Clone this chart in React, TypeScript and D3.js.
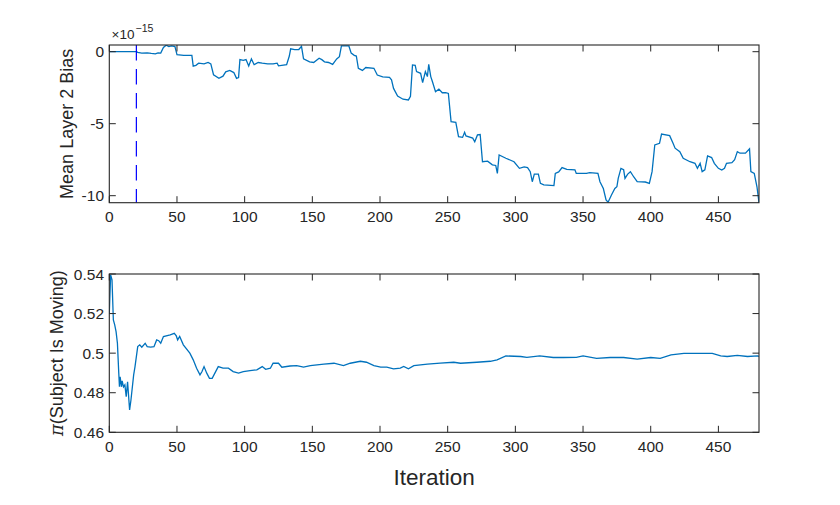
import React from "react";
import * as d3 from "d3";

const topIter = [0, 20, 21, 24, 28, 31, 34, 36, 38, 40, 42, 44, 46, 48.5, 50, 55, 61, 62, 64, 66, 70, 73, 75, 77, 81, 84, 86, 89, 92, 94, 95.5, 96.5, 99, 101, 103, 105, 107, 110, 113, 117, 121, 124, 125, 131, 133, 134, 137, 140, 142, 143.5, 148, 151, 155, 157, 159, 162, 165, 168, 170, 171.5, 177, 178.7, 181, 182.5, 184, 187, 189.5, 195.5, 198, 202, 207, 208.5, 210, 213, 217, 221, 222.5, 224, 226, 227, 230, 231.5, 233.5, 235, 236, 237.5, 238.7, 241, 243.5, 246, 248.5, 250.5, 252.5, 256, 258, 261, 262.5, 263.5, 268.5, 270, 272, 274, 275.7, 279.5, 283, 285.5, 286.7, 288, 293, 299, 303, 306.5, 309, 311, 312.5, 314, 317, 318.5, 321, 328.5, 329.5, 332, 334.5, 338, 344, 345, 352.5, 355, 361, 362.5, 365, 367, 368.5, 371, 373.5, 375, 376, 378, 380, 381, 383, 385, 387.5, 390, 396, 399, 401, 403, 406.5, 408, 414, 416.5, 418, 421.5, 424, 429, 432.7, 434.5, 436.5, 438, 440, 442, 445, 447, 450, 452.5, 454.5, 456, 460, 462, 464, 466, 470, 473, 474, 476.5, 478.5, 480];
const topBias = [0, 0, -0.05, -0.1, -0.08, -0.12, -0.15, -0.08, -0.1, 0.3, 0.45, 0.35, 0.4, 0.35, -0.2, -0.25, -0.25, -1.0, -0.95, -0.8, -0.85, -0.75, -0.85, -1.6, -1.85, -1.7, -1.4, -1.3, -1.45, -1.85, -1.8, -0.55, -0.6, -0.55, -1.0, -0.5, -0.9, -0.75, -0.8, -0.85, -0.85, -0.8, -0.98, -0.9, -0.3, 0.2, 0.15, 0.15, 0.37, -0.5, -0.7, -0.75, -0.45, -0.55, -0.7, -0.75, -0.88, -0.5, -0.35, 0.4, 0.4, -0.1, -0.25, -0.3, -1.15, -1.3, -1.1, -1.15, -1.62, -1.75, -1.78, -1.95, -2.55, -3.08, -3.3, -3.35, -3.1, -0.92, -0.95, -1.38, -1.5, -2.15, -1.38, -1.73, -0.88, -1.73, -2.07, -2.78, -2.6, -2.85, -2.85, -2.9, -4.86, -4.9, -5.9, -5.95, -5.6, -5.85, -6.0, -6.25, -5.78, -5.75, -7.64, -7.6, -7.86, -7.9, -8.45, -7.17, -7.4, -7.64, -8.1, -8.0, -8.05, -8.33, -9.03, -8.5, -8.5, -9.14, -9.25, -9.3, -8.45, -8.35, -8.05, -8.17, -8.2, -8.45, -8.45, -8.4, -8.45, -9.03, -9.5, -10.3, -10.45, -9.95, -9.5, -9.38, -8.8, -8.1, -8.2, -8.8, -8.5, -8.33, -8.7, -9.03, -9.05, -9.15, -8.33, -6.48, -6.36, -5.72, -5.83, -6.36, -6.7, -6.94, -7.4, -7.64, -7.75, -8.1, -7.75, -8.33, -8.2, -7.24, -7.35, -7.75, -8.1, -8.22, -8.1, -7.75, -7.7, -7.5, -6.94, -7.05, -7.05, -6.75, -8.33, -8.45, -9.38, -10.49];

const botIter = [0, 1, 2, 3, 4, 5, 6, 7, 7.5, 8, 9, 9.5, 10.5, 11.5, 12.5, 13.5, 15, 16, 18, 19, 21, 22.5, 24, 26.5, 28, 30.5, 33, 35, 36.5, 38, 40, 45, 48, 49.5, 50.5, 52, 54.7, 59.5, 62, 64.5, 67, 68.5, 70, 72, 74, 76, 78, 80.5, 84, 88, 91.5, 95.5, 99, 104, 109, 113, 115.5, 119, 121, 125, 127.5, 133.5, 138.5, 143.5, 148.5, 158.5, 166, 173, 178, 185.5, 190, 195.5, 200.5, 205, 210, 215, 217.5, 221, 225, 235, 244.5, 254.5, 259.5, 271.5, 281.5, 286.5, 293, 304, 308.5, 318, 328, 335.5, 345, 350, 360, 370, 380, 390, 400, 407, 415, 424.5, 434.5, 445.5, 451.7, 456.5, 464, 471.5, 479, 480];
const botPi = [0.5202, 0.5395, 0.537, 0.5168, 0.5143, 0.5109, 0.505, 0.4899, 0.483, 0.488, 0.483, 0.486, 0.483, 0.484, 0.478, 0.4855, 0.4713, 0.4763, 0.489, 0.4932, 0.5033, 0.5042, 0.503, 0.505, 0.5033, 0.503, 0.5033, 0.5067, 0.5063, 0.505, 0.5084, 0.5092, 0.51, 0.5087, 0.5067, 0.5084, 0.5042, 0.5, 0.4966, 0.4924, 0.489, 0.4907, 0.4932, 0.4899, 0.4873, 0.4873, 0.4899, 0.4932, 0.4924, 0.4924, 0.4907, 0.4899, 0.4907, 0.4912, 0.4916, 0.4932, 0.4918, 0.4924, 0.4949, 0.4949, 0.4929, 0.4935, 0.4937, 0.4929, 0.4937, 0.4945, 0.4949, 0.4937, 0.4949, 0.4959, 0.4954, 0.4937, 0.4929, 0.4929, 0.4921, 0.4924, 0.4933, 0.4921, 0.4937, 0.4945, 0.495, 0.4954, 0.4949, 0.4954, 0.4959, 0.4966, 0.4986, 0.4983, 0.4979, 0.4986, 0.4978, 0.4978, 0.4979, 0.4986, 0.4974, 0.4978, 0.4978, 0.497, 0.4978, 0.4974, 0.4991, 0.4999, 0.4999, 0.4999, 0.4986, 0.4983, 0.4989, 0.4983, 0.4986, 0.4984];

const xTicks = [0, 50, 100, 150, 200, 250, 300, 350, 400, 450];
const topYTicks = [-10, -5, 0];
const botYTicks = [0.46, 0.48, 0.5, 0.52, 0.54];
const burnIn = 20;

const W = 840, H = 505;
const L = 109.3, R = 759;
const T1 = 45, B1 = 202.7;
const T2 = 274, B2 = 432.3;
const AX = "#262626";
const BLUE = "#0072BD";
const FONT = "'Liberation Sans', Arial, Helvetica, sans-serif";
const TICK = 6.5;

function Frame({ top, bottom, x, y, yTicks, yFmt }: any) {
  return (
    <g>
      {xTicks.map((t) => (
        <g key={"x" + t}>
          <line x1={x(t)} x2={x(t)} y1={bottom} y2={bottom - TICK} stroke={AX} strokeWidth={1} />
          <line x1={x(t)} x2={x(t)} y1={top} y2={top + TICK} stroke={AX} strokeWidth={1} />
          <text x={x(t)} y={bottom + 19.4} textAnchor="middle" fontSize={15.5} fill={AX} fontFamily={FONT}>{t}</text>
        </g>
      ))}
      {yTicks.map((t: number) => (
        <g key={"y" + t}>
          <line x1={L} x2={L + TICK} y1={y(t)} y2={y(t)} stroke={AX} strokeWidth={1} />
          <line x1={R} x2={R - TICK} y1={y(t)} y2={y(t)} stroke={AX} strokeWidth={1} />
          <text x={104} y={y(t) + 5.5} textAnchor="end" fontSize={15.5} fill={AX} fontFamily={FONT}>{yFmt(t)}</text>
        </g>
      ))}
      <rect x={L} y={top} width={R - L} height={bottom - top} fill="none" stroke={AX} strokeWidth={1.1} />
    </g>
  );
}

export default function App() {
  const x = d3.scaleLinear().domain([0, 480]).range([L, R]);
  const y1 = d3.scaleLinear().domain([-10.486, 0.465]).range([B1, T1]);
  const y2 = d3.scaleLinear().domain([0.46, 0.54]).range([B2, T2]);

  const topPts: [number, number][] = topIter.map((it, i) => [it, topBias[i]]);
  const botPts: [number, number][] = botIter.map((it, i) => [it, botPi[i]]);
  const line1 = d3.line<[number, number]>().x((d) => x(d[0])).y((d) => y1(d[1]));
  const line2 = d3.line<[number, number]>().x((d) => x(d[0])).y((d) => y2(d[1]));

  return (
    <svg width={W} height={H} style={{ position: "absolute", left: 0, top: 0, background: "#fff" }}>
      <rect x={0} y={0} width={W} height={H} fill="#fff" />
      <defs>
        <clipPath id="c1"><rect x={L} y={T1} width={R - L} height={B1 - T1} /></clipPath>
        <clipPath id="c2"><rect x={L} y={T2} width={R - L} height={B2 - T2} /></clipPath>
      </defs>

      {/* top panel */}
      <path d={line1(topPts) || ""} fill="none" stroke={BLUE} strokeWidth={1.3} clipPath="url(#c1)" />
      <line x1={x(burnIn)} x2={x(burnIn)} y1={T1} y2={B1} stroke="#0000FF" strokeWidth={1.2} strokeDasharray="15.5,8.5" />
      <Frame top={T1} bottom={B1} x={x} y={y1} yTicks={topYTicks} yFmt={(t: number) => String(t)} />
      <text x={111.5} y={39} fontSize={13.5} fill={AX} fontFamily={FONT}>×10</text>
      <text x={135.5} y={31.5} fontSize={10.5} fill={AX} fontFamily={FONT}>−15</text>
      <text transform={`translate(73,${(T1 + B1) / 2}) rotate(-90)`} textAnchor="middle" fontSize={18} fill={AX} fontFamily={FONT}>Mean Layer 2 Bias</text>

      {/* bottom panel */}
      <path d={line2(botPts) || ""} fill="none" stroke={BLUE} strokeWidth={1.3} clipPath="url(#c2)" />
      <Frame top={T2} bottom={B2} x={x} y={y2} yTicks={botYTicks} yFmt={(t: number) => String(t)} />
      <text transform={`translate(63,${(T2 + B2) / 2}) rotate(-90)`} textAnchor="middle" fontSize={18} fill={AX} fontFamily={FONT}>
        <tspan fontStyle="italic" fontFamily="'DejaVu Serif', serif">π</tspan>(Subject Is Moving)
      </text>
      <text x={(L + R) / 2} y={485} textAnchor="middle" fontSize={22.5} fill={AX} fontFamily={FONT}>Iteration</text>
    </svg>
  );
}
